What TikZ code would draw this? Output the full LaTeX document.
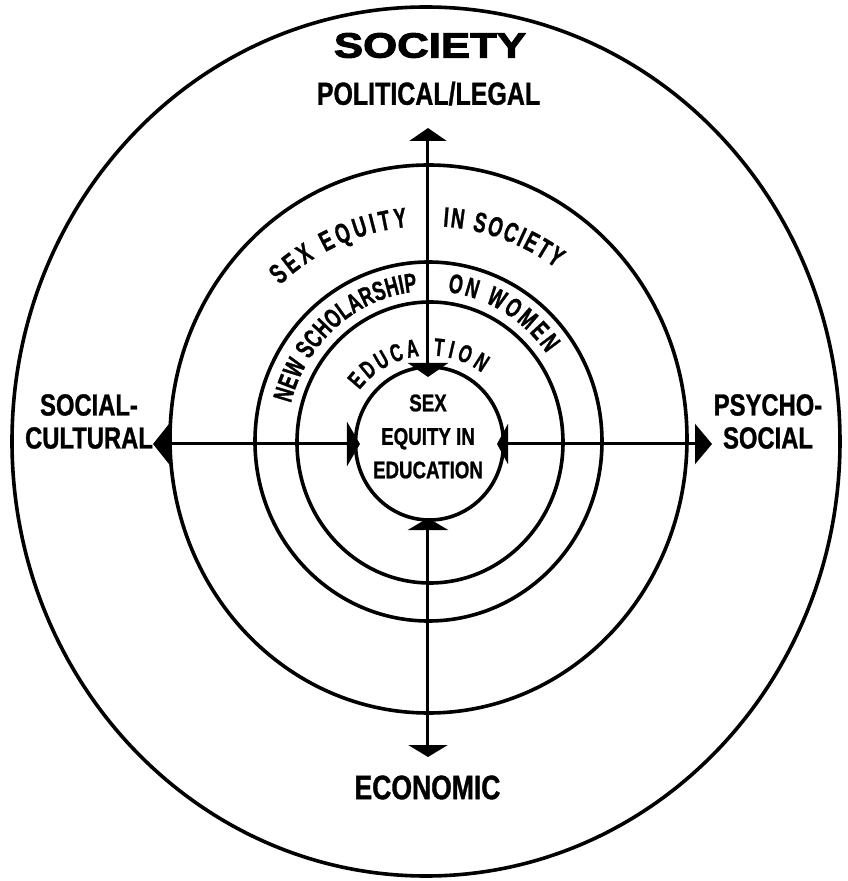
\documentclass[tikz,border=0pt]{standalone}
\usepackage{fontspec}
\setmainfont{Liberation Sans}
\newfontfamily\condf[FakeStretch=0.78,FakeBold=1]{Liberation Sans}
\newfontfamily\narrf[FakeStretch=0.66,FakeBold=1]{Liberation Sans}
\newfontfamily\widef[FakeStretch=1.25,FakeBold=3]{Liberation Sans}
\usetikzlibrary{arrows.meta,decorations.text}
\begin{document}
\begin{tikzpicture}[x=1pt,y=1pt,
  ring/.style={line width=3.6pt},
  axis/.style={line width=3pt},
  lab/.style={inner sep=0pt, align=center, text=black},
  curved/.style={decorate, decoration={text along path, text align={fit to path}, text={#1}}}]
\useasboundingbox (-428,-440) rectangle (420,441);
% rings
\draw[ring] (-2,-0.5) ellipse [x radius=414, y radius=434.5];
\draw[ring] (0.5,2) ellipse [x radius=258.5, y radius=274];
\draw[ring] (0.5,-0.5) ellipse [x radius=173.5, y radius=179.5];
\draw[ring] (2,-1.5) ellipse [x radius=133, y radius=140.5];
\draw[ring] (1.5,-2.5) ellipse [x radius=74, y radius=76.5];
% axis end points
\coordinate (otop) at (0,313);
\coordinate (itop) at (0,64);
\coordinate (obot) at (0,-316);
\coordinate (ibot) at (0,-77);
\coordinate (oleft) at (-275,-3);
\coordinate (ileft) at (-68,-3);
\coordinate (oright) at (284,-3);
\coordinate (iright) at (69,-3);
\draw[axis, {Triangle[length=14pt,width=40pt]}-{Triangle[length=13pt,width=37pt]}] (itop) -- (otop);
\draw[axis, {Triangle[length=12pt,width=40pt]}-{Triangle[length=12pt,width=39pt]}] (ibot) -- (obot);
\draw[axis, {Triangle[length=13pt,width=44pt]}-{Triangle[length=17pt,width=42pt]}] (ileft) -- (oleft);
\draw[axis, {Triangle[length=11pt,width=40pt]}-{Triangle[length=17pt,width=40pt]}] (iright) -- (oright);
% labels
\node[lab, font=\widef\bfseries\fontsize{35}{36}\selectfont] (society) at (2,395.5) {SOCIETY};
\node[lab, font=\condf\bfseries\fontsize{32}{34}\selectfont] (pol) at (0.5,347.5) {POLITICAL/LEGAL};
\node[lab, font=\condf\bfseries\fontsize{34}{36}\selectfont] (eco) at (-0.5,-346.5) {ECONOMIC};
\node[lab, font=\condf\bfseries\fontsize{30.5}{33}\selectfont] (soc) at (-339,19.5) {SOCIAL-\\CULTURAL};
\node[lab, font=\condf\bfseries\fontsize{30.5}{33}\selectfont] (psy) at (340,19.5) {PSYCHO-\\SOCIAL};
\node[lab, font=\condf\bfseries\fontsize{24}{33.5}\selectfont] (core) at (0,4.5) {SEX\\EQUITY IN\\EDUCATION};
% curved texts
\path[curved={|\narrf\bfseries\fontsize{28}{28}\selectfont|SEX EQUITY}] (133.5:215) arc[start angle=133.5, end angle=95.5, radius=215];
\path[curved={|\narrf\bfseries\fontsize{28}{28}\selectfont|IN SOCIETY}] (86:215) arc[start angle=86, end angle=53.5, radius=215];
\path[shift={(2,-1.5)}, curved={|\narrf\bfseries\fontsize{27}{27}\selectfont|NEW SCHOLARSHIP}] (165:144 and 151.5) arc[start angle=165, end angle=95, x radius=144, y radius=151.5];
\path[shift={(2,-1.5)}, curved={|\narrf\bfseries\fontsize{27}{27}\selectfont|ON WOMEN}] (83:144 and 151.5) arc[start angle=83, end angle=36, x radius=144, y radius=151.5];
\path[shift={(1.5,-2.5)}, curved={|\narrf\bfseries\fontsize{25}{25}\selectfont|EDUCA}] (142.7:88) arc[start angle=142.7, end angle=96.5, radius=88];
\path[shift={(1.5,-2.5)}, curved={|\narrf\bfseries\fontsize{25}{25}\selectfont|TION}] (87.5:88) arc[start angle=87.5, end angle=53.5, radius=88];
\end{tikzpicture}
\end{document}
